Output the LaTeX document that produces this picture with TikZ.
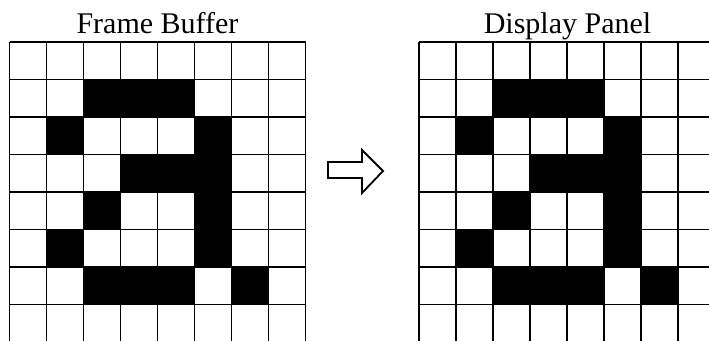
\documentclass[tikz,border=0pt]{standalone}
\usepackage{fontspec}
\setmainfont{Liberation Serif}
\begin{document}
\begin{tikzpicture}[x=1pt,y=-1pt,
  gridline/.style={line width=1.8pt,black},
  pix/.style={fill=black},
  title/.style={font=\fontsize{30}{32}\selectfont, anchor=base}]
\useasboundingbox (0,0) rectangle (709,340);
\clip (0,0) rectangle (709,340);
\fill[white] (0,0) rectangle (709,340);
% pattern: list of row/col black cells
\def\cells{1/2,1/3,1/4,2/1,2/5,3/3,3/4,3/5,4/2,4/5,5/1,5/5,6/2,6/3,6/4,6/6}
\foreach \gx in {9.5,419}{
  \foreach \r/\c in \cells {
    \fill[pix] (\gx+\c*37,42+\r*37.5) rectangle ++(37,37.5);
  }
  \foreach \i in {0,...,8}{
    \draw[gridline] (\gx+\i*37,42) -- (\gx+\i*37,342);
    \draw[gridline] (\gx,42+\i*37.5) -- (\gx+8*37,42+\i*37.5);
  }
}
\node[title] (fb) at (157.5,33) {Frame Buffer};
\node[title] (dp) at (567.5,33) {Display Panel};
\draw[line width=1.8pt,fill=white,line join=miter]
  (328,162) -- (362,162) -- (362,150) -- (383,171) -- (362,193) -- (362,178) -- (328,178) -- cycle;
\end{tikzpicture}
\end{document}
